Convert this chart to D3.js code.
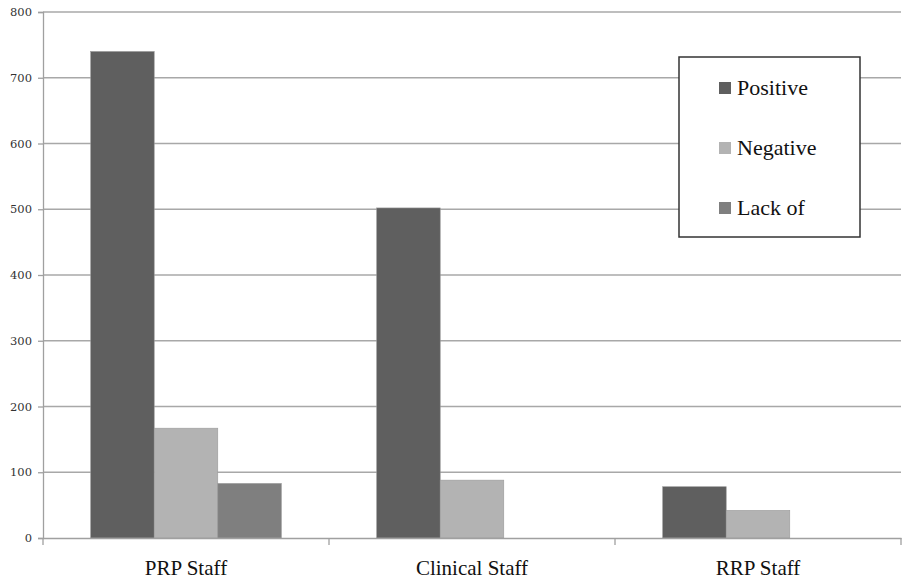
<!DOCTYPE html>
<html>
<head>
<meta charset="utf-8">
<script src="https://cdn.jsdelivr.net/npm/d3@7"></script>
<style>
  body { margin: 0; background: #fff; }
  svg { display: block; }
</style>
</head>
<body>
<div id="chart"></div>
<script>
// datos
var categories = ["PRP Staff", "Clinical Staff", "RRP Staff"];
var seriesNames = ["Positive", "Negative", "Lack of"];
var positive = [740, 502, 78];
var negative = [167, 88, 42];
var lackOf = [83, 0, 0];
var yTicks = [0, 100, 200, 300, 400, 500, 600, 700, 800];

var colors = ["#5f5f5f", "#b3b3b3", "#7f7f7f"];
var seriesValues = [positive, negative, lackOf];

var width = 905, height = 583;
var margin = {top: 12, right: 4, bottom: 45, left: 43};

var svg = d3.select("#chart")
            .append("svg")
            .attr("width", width)
            .attr("height", height);

var x = d3.scaleBand()
          .domain(categories)
          .range([margin.left, width - margin.right])
          .paddingInner(0)
          .paddingOuter(0);

// 3 barras + hueco de 150% => 4.5 anchos de barra por categoria
var barW = x.bandwidth() / 4.5;
var x1 = d3.scaleBand()
           .domain(seriesNames)
           .range([barW * 0.75, barW * 3.75]);

var y = d3.scaleLinear()
          .domain([0, 800])
          .range([height - margin.bottom, margin.top]);

//Lineas de la grilla
svg.append("g")
   .selectAll("line")
   .data(yTicks.filter(function(d){ return d > 0; }))
   .enter().append("line")
   .attr("x1", margin.left)
   .attr("x2", width - margin.right)
   .attr("y1", function(d){ return y(d); })
   .attr("y2", function(d){ return y(d); })
   .attr("stroke", "#a8a8a8")
   .attr("stroke-width", 1.3);

//Barras
var groups = svg.append("g")
   .selectAll("g")
   .data(categories)
   .enter().append("g")
   .attr("transform", function(d){ return "translate(" + x(d) + ",0)"; });

groups.selectAll("rect")
   .data(function(d, i){
     return seriesNames.map(function(s, j){
       return {name: s, value: seriesValues[j][i], color: colors[j]};
     });
   })
   .enter().append("rect")
   .filter(function(d){ return d.value > 0; })
   .attr("x", function(d){ return x1(d.name); })
   .attr("width", x1.bandwidth())
   .attr("y", function(d){ return y(d.value); })
   .attr("height", function(d){ return y(0) - y(d.value); })
   .attr("fill", function(d){ return d.color; })
   .attr("stroke", "#9a9a9a")
   .attr("stroke-width", 0.6);

//Eje Y
var yAxis = svg.append("g")
   .attr("transform", "translate(" + margin.left + ",0)")
   .call(d3.axisLeft(y).tickValues(yTicks).tickSize(5).tickPadding(6));

yAxis.select(".domain").attr("stroke", "#a0a0a0").attr("stroke-width", 1.3);
yAxis.selectAll(".tick line").attr("stroke", "#a0a0a0").attr("stroke-width", 1.3);
yAxis.selectAll("text")
     .attr("font-family", "'DejaVu Serif', serif")
     .attr("font-size", 11.5)
     .attr("fill", "#333");

//Eje X
var xAxis = svg.append("g")
   .attr("transform", "translate(0," + y(0) + ")")
   .call(d3.axisBottom(x).tickSize(0).tickPadding(22));

xAxis.select(".domain").attr("stroke", "#a0a0a0").attr("stroke-width", 1.3);
xAxis.selectAll("text")
     .attr("font-family", "'Liberation Serif', serif")
     .attr("font-size", 21)
     .attr("fill", "#111");

// separadores de categoria
svg.append("g")
   .selectAll("line")
   .data(categories)
   .enter().append("line")
   .attr("x1", function(d){ return x(d) + x.bandwidth(); })
   .attr("x2", function(d){ return x(d) + x.bandwidth(); })
   .attr("y1", y(0))
   .attr("y2", y(0) + 7)
   .attr("stroke", "#a0a0a0")
   .attr("stroke-width", 1.3);
svg.append("line")
   .attr("x1", margin.left).attr("x2", margin.left)
   .attr("y1", y(0)).attr("y2", y(0) + 7)
   .attr("stroke", "#a0a0a0").attr("stroke-width", 1.3);

//Leyenda
var legend = svg.append("g").attr("transform", "translate(679,57)");
legend.append("rect")
      .attr("width", 181)
      .attr("height", 180)
      .attr("fill", "#fff")
      .attr("stroke", "#333")
      .attr("stroke-width", 1.5);

var items = legend.selectAll(".item")
      .data(seriesNames)
      .enter().append("g")
      .attr("transform", function(d, i){ return "translate(40," + (31 + i * 60) + ")"; });

items.append("rect")
     .attr("x", 0)
     .attr("y", -6)
     .attr("width", 12)
     .attr("height", 12)
     .attr("fill", function(d, i){ return colors[i]; });

items.append("text")
     .attr("x", 18)
     .attr("y", 7)
     .attr("font-family", "'Liberation Serif', serif")
     .attr("font-size", 22)
     .attr("fill", "#111")
     .text(function(d){ return d; });
</script>
</body>
</html>
